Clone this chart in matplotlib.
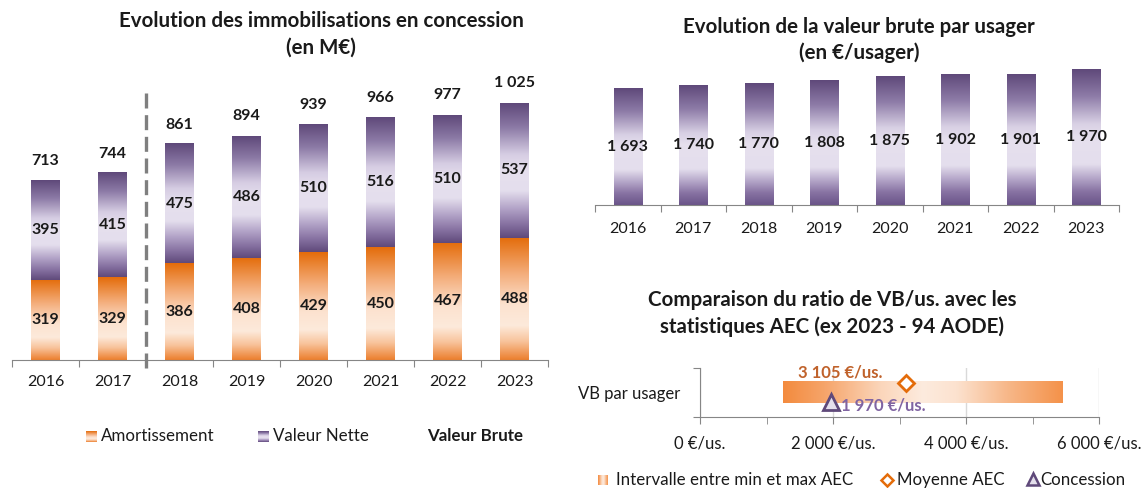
import numpy as np
import matplotlib
matplotlib.use("Agg")
import matplotlib.pyplot as plt
from matplotlib.colors import LinearSegmentedColormap

plt.rcParams["font.family"] = ["Lato", "DejaVu Sans"]

# --- data ---
years = ["2016", "2017", "2018", "2019", "2020", "2021", "2022", "2023"]
amortissement = [319, 329, 386, 408, 429, 450, 467, 488]
valeur_nette = [395, 415, 475, 486, 510, 516, 510, 537]
valeur_brute = [713, 744, 861, 894, 939, 966, 977, 1025]
vb_par_usager = [1693, 1740, 1770, 1808, 1875, 1902, 1901, 1970]

aec_min = 1250
aec_max = 5450
aec_moyenne = 3105
concession = 1970

W, H = 1141, 488
TXT = "#1a1a1a"
AXC = "#868686"
TITLE_FS = 14.8


def fx(px):
    return px / W


def fy(py):
    return 1 - py / H


def fmt(v):
    return f"{v:,}".replace(",", " ")


orange_v = LinearSegmentedColormap.from_list("orange_v", [
    (0, "#E46C0A"), (0.3, "#F4AE7C"), (0.55, "#FCE2CF"), (0.72, "#FDEADB"),
    (0.85, "#F8C39B"), (1, "#EC7F2E")])
purple_v = LinearSegmentedColormap.from_list("purple_v", [
    (0, "#5F497A"), (0.18, "#8C7AA6"), (0.38, "#D6CDE3"), (0.5, "#E6E0EE"),
    (0.65, "#E4DEED"), (0.78, "#B3A4C8"), (0.9, "#8671A1"), (1, "#604A7B")])
purple_r = LinearSegmentedColormap.from_list("purple_r", [
    (0, "#5F497A"), (0.2, "#8E7CA8"), (0.4, "#D8D0E4"), (0.5, "#E6E0EE"),
    (0.7, "#E4DEED"), (0.8, "#B6A8CA"), (0.9, "#8873A3"), (1, "#6A5489")])
orange_h = LinearSegmentedColormap.from_list("orange_h", [
    (0, "#F38B3E"), (0.15, "#F6A56B"), (0.35, "#FBD6BB"), (0.5, "#FDEBDE"),
    (0.62, "#FCE2CF"), (0.8, "#F7B88A"), (1, "#F4924A")])

GRAD = np.linspace(0, 1, 256)


def grad_bar(ax, x, y0, y1, w, cmap):
    ax.imshow(GRAD.reshape(-1, 1), cmap=cmap, extent=[x - w / 2, x + w / 2, y0, y1],
              aspect="auto", origin="upper", interpolation="bilinear", zorder=2)


def cat_axis(ax, n, pad):
    for s in ["top", "left", "right"]:
        ax.spines[s].set_visible(False)
    ax.spines["bottom"].set_color(AXC)
    ax.set_xticks(np.arange(-0.5, n, 1))
    ax.set_xticklabels([])
    ax.set_xticks(np.arange(n), minor=True)
    ax.set_xticklabels(years, minor=True)
    ax.tick_params(axis="x", which="major", length=5, color=AXC, direction="out")
    ax.tick_params(axis="x", which="minor", length=0, pad=pad, labelsize=11.5, labelcolor=TXT)
    ax.set_yticks([])
    ax.set_xlim(-0.5, n - 0.5)


fig = plt.figure(figsize=(W / 100, H / 100), dpi=100)

# --- left: immobilisations ---
ax1 = fig.add_axes([fx(12), fy(360), fx(536), 301 / H])
x = np.arange(len(years))
for i in x:
    a, n, b = amortissement[i], valeur_nette[i], valeur_brute[i]
    grad_bar(ax1, i, 0, a, 0.42, orange_v)
    grad_bar(ax1, i, a, a + n, 0.42, purple_v)
    ax1.text(i, a / 2, fmt(a), ha="center", va="center", fontsize=11.5,
             fontweight="bold", color=TXT, zorder=3)
    ax1.text(i, a + n / 2, fmt(n), ha="center", va="center", fontsize=11.5,
             fontweight="bold", color=TXT, zorder=3)
    ax1.annotate(fmt(b), (i, a + n), xytext=(0, 14), textcoords="offset points",
                 ha="center", va="center", fontsize=11.5, fontweight="bold", color=TXT)
ax1.set_ylim(0, 1200)
cat_axis(ax1, len(years), 11)
ax1.plot([1.5, 1.5], [-32, 1064], color="#7f7f7f", lw=2.4, dashes=(4.5, 2),
         clip_on=False, zorder=4)

fig.text(fx(321), fy(21), "Evolution des immobilisations en concession",
         ha="center", va="center", fontsize=TITLE_FS, fontweight="bold", color=TXT)
fig.text(fx(321), fy(48), "(en M€)", ha="center", va="center", fontsize=TITLE_FS,
         fontweight="bold", color=TXT)

# left legend
for px, cmap, label, bold in [(86, orange_v, "Amortissement", False),
                              (258, purple_v, "Valeur Nette", False),
                              (None, None, "Valeur Brute", True)]:
    if px is not None:
        lax = fig.add_axes([fx(px), fy(442), fx(11), 11 / H])
        lax.imshow(GRAD.reshape(-1, 1), cmap=cmap, aspect="auto")
        lax.axis("off")
        fig.text(fx(px + 15), fy(436), label, ha="left", va="center", fontsize=12.2, color=TXT)
    else:
        fig.text(fx(427), fy(436), label, ha="left", va="center", fontsize=12.2,
                 fontweight="bold", color=TXT)

# --- right top: valeur brute par usager ---
ax2 = fig.add_axes([fx(595), fy(205), fx(524), 151 / H])
for i in x:
    v = vb_par_usager[i]
    grad_bar(ax2, i, 0, v, 0.43, purple_r)
    ax2.text(i, v / 2, fmt(v), ha="center", va="center", fontsize=11.5,
             fontweight="bold", color=TXT, zorder=3)
ax2.set_ylim(0, 2200)
cat_axis(ax2, len(years), 12)

fig.text(fx(859), fy(27), "Evolution de la valeur brute par usager",
         ha="center", va="center", fontsize=TITLE_FS, fontweight="bold", color=TXT)
fig.text(fx(859), fy(53), "(en €/usager)", ha="center", va="center", fontsize=TITLE_FS,
         fontweight="bold", color=TXT)

# --- right bottom: comparaison AEC ---
ax3 = fig.add_axes([fx(700), fy(417), fx(399), 49 / H])
ax3.imshow(GRAD.reshape(1, -1), cmap=orange_h, extent=[aec_min, aec_max, -0.43, 0.43],
           aspect="auto", interpolation="bilinear", zorder=2)
ax3.plot([aec_moyenne], [0.4], marker="D", ms=8, mfc="white", mec="#E46C0A",
         mew=2, ls="none", zorder=4, clip_on=False)
ax3.plot([concession], [-0.4], marker="^", ms=11.5, mfc="#E4DFEC", mec="#5F497A",
         mew=2, ls="none", zorder=4, clip_on=False)
ax3.annotate(f"{fmt(aec_moyenne)} €/us.", (aec_moyenne, 0.43), xytext=(-17, 6.5),
             textcoords="offset points", ha="right", va="center", fontsize=12,
             fontweight="bold", color="#C0622B")
ax3.annotate(f"{fmt(concession)} €/us.", (concession, -0.43), xytext=(7, -2),
             textcoords="offset points", ha="left", va="center", fontsize=12,
             fontweight="bold", color="#8064A2")
ax3.set_xlim(0, 6000)
ax3.set_ylim(-1, 1)
for s in ["top", "right"]:
    ax3.spines[s].set_visible(False)
ax3.spines["bottom"].set_color(AXC)
ax3.spines["left"].set_color(AXC)
ax3.set_xticks([0, 2000, 4000, 6000])
ax3.set_xticklabels([f"{fmt(v)} €/us." for v in [0, 2000, 4000, 6000]])
ax3.set_xticks([1000, 3000, 5000], minor=True)
ax3.tick_params(axis="x", which="both", length=5, color=AXC, pad=8, labelsize=12,
                labelcolor=TXT)
ax3.grid(axis="x", which="major", color="#D9D9D9", lw=1, zorder=0)
ax3.set_axisbelow(True)
ax3.set_yticks([-1, 1])
ax3.set_yticklabels([])
ax3.set_yticks([0], minor=True)
ax3.set_yticklabels(["VB par usager"], minor=True)
ax3.tick_params(axis="y", which="major", length=5, color=AXC)
ax3.tick_params(axis="y", which="minor", length=0, pad=14, labelsize=12, labelcolor=TXT)

fig.text(fx(832), fy(300), "Comparaison du ratio de VB/us. avec les",
         ha="center", va="center", fontsize=TITLE_FS, fontweight="bold", color=TXT)
fig.text(fx(832), fy(327), "statistiques AEC (ex 2023 - 94 AODE)",
         ha="center", va="center", fontsize=TITLE_FS, fontweight="bold", color=TXT)

# bottom-right legend
lax = fig.add_axes([fx(598), fy(485), fx(9), 10 / H])
lax.imshow(GRAD.reshape(1, -1), cmap=orange_h, aspect="auto")
lax.axis("off")
fig.text(fx(616), fy(480), "Intervalle entre min et max AEC", ha="left", va="center",
         fontsize=12.2, color=TXT)
fig.lines.append(plt.Line2D([fx(887)], [fy(480)], marker="D", ms=6, mfc="white",
                            mec="#E46C0A", mew=1.8, transform=fig.transFigure))
fig.text(fx(897), fy(480), "Moyenne AEC", ha="left", va="center", fontsize=12.2, color=TXT)
fig.lines.append(plt.Line2D([fx(1033)], [fy(479)], marker="^", ms=9, mfc="#E4DFEC",
                            mec="#5F497A", mew=1.8, transform=fig.transFigure))
fig.text(fx(1040), fy(480), "Concession", ha="left", va="center", fontsize=12.2, color=TXT)

fig.savefig("out.png", dpi=100, facecolor="white")
